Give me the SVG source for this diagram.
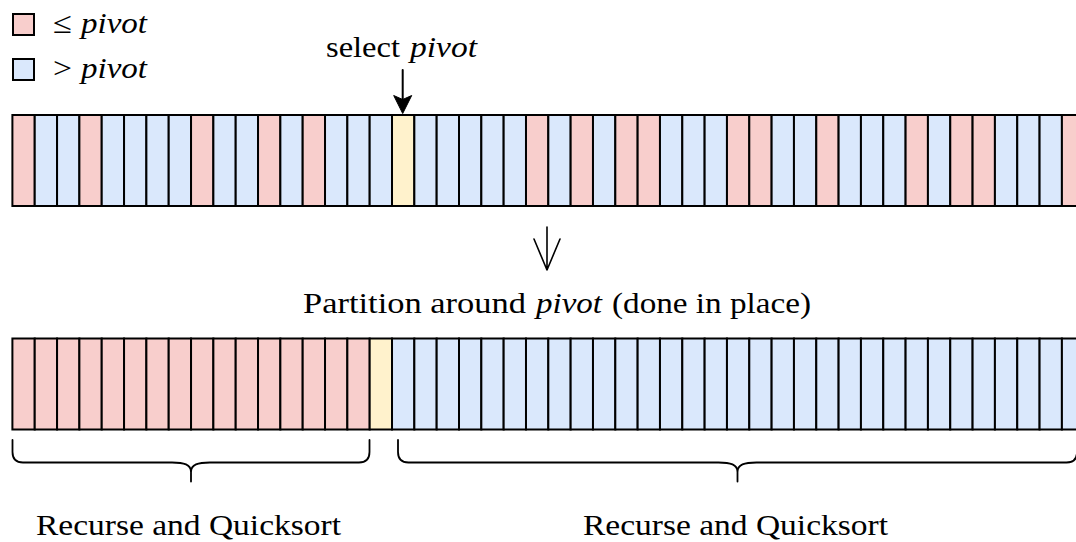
<svg xmlns="http://www.w3.org/2000/svg" width="1076" height="542" viewBox="0 0 1076 542">
<style>
.p{fill:#f8cecc;stroke:#000;stroke-width:2}
.b{fill:#dae8fc;stroke:#000;stroke-width:2}
.y{fill:#fff2cc;stroke:#000;stroke-width:2}
.t{font-family:"Liberation Serif","Times New Roman",serif;font-size:30px;fill:#000}
.i{font-style:italic}
.ln{fill:none;stroke:#000;stroke-width:2;stroke-linecap:round;stroke-linejoin:round}
</style>
<rect width="1076" height="542" fill="#fff"/>
<g id="legend">
  <rect class="p" x="13" y="14" width="21" height="21"/>
  <text class="t" x="53" y="33" textLength="19" lengthAdjust="spacingAndGlyphs">≤</text>
  <text class="t i" x="81" y="33" textLength="66" lengthAdjust="spacingAndGlyphs">pivot</text>
  <rect class="b" x="13" y="59" width="21" height="21"/>
  <text class="t" x="53" y="78" textLength="19" lengthAdjust="spacingAndGlyphs">&gt;</text>
  <text class="t i" x="81" y="78" textLength="66" lengthAdjust="spacingAndGlyphs">pivot</text>
</g>
<g id="label-select">
  <text class="t" x="326" y="57" textLength="74" lengthAdjust="spacingAndGlyphs">select</text>
  <text class="t i" x="410" y="57" textLength="67" lengthAdjust="spacingAndGlyphs">pivot</text>
</g>
<g id="array-top">
  <rect class="p" x="12.4" y="115" width="22.33" height="91"/>
  <rect class="b" x="34.73" y="115" width="22.33" height="91"/>
  <rect class="b" x="57.06" y="115" width="22.33" height="91"/>
  <rect class="p" x="79.39" y="115" width="22.33" height="91"/>
  <rect class="b" x="101.72" y="115" width="22.33" height="91"/>
  <rect class="b" x="124.05" y="115" width="22.33" height="91"/>
  <rect class="b" x="146.38" y="115" width="22.33" height="91"/>
  <rect class="b" x="168.71" y="115" width="22.33" height="91"/>
  <rect class="p" x="191.04" y="115" width="22.33" height="91"/>
  <rect class="b" x="213.37" y="115" width="22.33" height="91"/>
  <rect class="b" x="235.7" y="115" width="22.33" height="91"/>
  <rect class="p" x="258.03" y="115" width="22.33" height="91"/>
  <rect class="b" x="280.36" y="115" width="22.33" height="91"/>
  <rect class="p" x="302.69" y="115" width="22.33" height="91"/>
  <rect class="b" x="325.02" y="115" width="22.33" height="91"/>
  <rect class="b" x="347.35" y="115" width="22.33" height="91"/>
  <rect class="b" x="369.68" y="115" width="22.33" height="91"/>
  <rect class="y" x="392.01" y="115" width="22.33" height="91"/>
  <rect class="b" x="414.34" y="115" width="22.33" height="91"/>
  <rect class="b" x="436.67" y="115" width="22.33" height="91"/>
  <rect class="b" x="459" y="115" width="22.33" height="91"/>
  <rect class="b" x="481.33" y="115" width="22.33" height="91"/>
  <rect class="b" x="503.66" y="115" width="22.33" height="91"/>
  <rect class="p" x="525.99" y="115" width="22.33" height="91"/>
  <rect class="b" x="548.32" y="115" width="22.33" height="91"/>
  <rect class="p" x="570.65" y="115" width="22.33" height="91"/>
  <rect class="b" x="592.98" y="115" width="22.33" height="91"/>
  <rect class="p" x="615.31" y="115" width="22.33" height="91"/>
  <rect class="p" x="637.64" y="115" width="22.33" height="91"/>
  <rect class="b" x="659.97" y="115" width="22.33" height="91"/>
  <rect class="b" x="682.3" y="115" width="22.33" height="91"/>
  <rect class="b" x="704.63" y="115" width="22.33" height="91"/>
  <rect class="p" x="726.96" y="115" width="22.33" height="91"/>
  <rect class="p" x="749.29" y="115" width="22.33" height="91"/>
  <rect class="b" x="771.62" y="115" width="22.33" height="91"/>
  <rect class="b" x="793.95" y="115" width="22.33" height="91"/>
  <rect class="p" x="816.28" y="115" width="22.33" height="91"/>
  <rect class="b" x="838.61" y="115" width="22.33" height="91"/>
  <rect class="b" x="860.94" y="115" width="22.33" height="91"/>
  <rect class="b" x="883.27" y="115" width="22.33" height="91"/>
  <rect class="p" x="905.6" y="115" width="22.33" height="91"/>
  <rect class="b" x="927.93" y="115" width="22.33" height="91"/>
  <rect class="p" x="950.26" y="115" width="22.33" height="91"/>
  <rect class="p" x="972.59" y="115" width="22.33" height="91"/>
  <rect class="b" x="994.92" y="115" width="22.33" height="91"/>
  <rect class="b" x="1017.25" y="115" width="22.33" height="91"/>
  <rect class="b" x="1039.58" y="115" width="22.33" height="91"/>
  <rect class="p" x="1061.91" y="115" width="22.33" height="91"/>
</g>
<g id="label-partition">
  <text class="t" x="303" y="313" textLength="223" lengthAdjust="spacingAndGlyphs">Partition around</text>
  <text class="t i" x="536" y="313" textLength="66" lengthAdjust="spacingAndGlyphs">pivot</text>
  <text class="t" x="612" y="313" textLength="199" lengthAdjust="spacingAndGlyphs">(done in place)</text>
</g>
<g id="array-bottom">
  <rect class="p" x="12.4" y="338.5" width="22.33" height="91"/>
  <rect class="p" x="34.73" y="338.5" width="22.33" height="91"/>
  <rect class="p" x="57.06" y="338.5" width="22.33" height="91"/>
  <rect class="p" x="79.39" y="338.5" width="22.33" height="91"/>
  <rect class="p" x="101.72" y="338.5" width="22.33" height="91"/>
  <rect class="p" x="124.05" y="338.5" width="22.33" height="91"/>
  <rect class="p" x="146.38" y="338.5" width="22.33" height="91"/>
  <rect class="p" x="168.71" y="338.5" width="22.33" height="91"/>
  <rect class="p" x="191.04" y="338.5" width="22.33" height="91"/>
  <rect class="p" x="213.37" y="338.5" width="22.33" height="91"/>
  <rect class="p" x="235.7" y="338.5" width="22.33" height="91"/>
  <rect class="p" x="258.03" y="338.5" width="22.33" height="91"/>
  <rect class="p" x="280.36" y="338.5" width="22.33" height="91"/>
  <rect class="p" x="302.69" y="338.5" width="22.33" height="91"/>
  <rect class="p" x="325.02" y="338.5" width="22.33" height="91"/>
  <rect class="p" x="347.35" y="338.5" width="22.33" height="91"/>
  <rect class="y" x="369.68" y="338.5" width="22.33" height="91"/>
  <rect class="b" x="392.01" y="338.5" width="22.33" height="91"/>
  <rect class="b" x="414.34" y="338.5" width="22.33" height="91"/>
  <rect class="b" x="436.67" y="338.5" width="22.33" height="91"/>
  <rect class="b" x="459" y="338.5" width="22.33" height="91"/>
  <rect class="b" x="481.33" y="338.5" width="22.33" height="91"/>
  <rect class="b" x="503.66" y="338.5" width="22.33" height="91"/>
  <rect class="b" x="525.99" y="338.5" width="22.33" height="91"/>
  <rect class="b" x="548.32" y="338.5" width="22.33" height="91"/>
  <rect class="b" x="570.65" y="338.5" width="22.33" height="91"/>
  <rect class="b" x="592.98" y="338.5" width="22.33" height="91"/>
  <rect class="b" x="615.31" y="338.5" width="22.33" height="91"/>
  <rect class="b" x="637.64" y="338.5" width="22.33" height="91"/>
  <rect class="b" x="659.97" y="338.5" width="22.33" height="91"/>
  <rect class="b" x="682.3" y="338.5" width="22.33" height="91"/>
  <rect class="b" x="704.63" y="338.5" width="22.33" height="91"/>
  <rect class="b" x="726.96" y="338.5" width="22.33" height="91"/>
  <rect class="b" x="749.29" y="338.5" width="22.33" height="91"/>
  <rect class="b" x="771.62" y="338.5" width="22.33" height="91"/>
  <rect class="b" x="793.95" y="338.5" width="22.33" height="91"/>
  <rect class="b" x="816.28" y="338.5" width="22.33" height="91"/>
  <rect class="b" x="838.61" y="338.5" width="22.33" height="91"/>
  <rect class="b" x="860.94" y="338.5" width="22.33" height="91"/>
  <rect class="b" x="883.27" y="338.5" width="22.33" height="91"/>
  <rect class="b" x="905.6" y="338.5" width="22.33" height="91"/>
  <rect class="b" x="927.93" y="338.5" width="22.33" height="91"/>
  <rect class="b" x="950.26" y="338.5" width="22.33" height="91"/>
  <rect class="b" x="972.59" y="338.5" width="22.33" height="91"/>
  <rect class="b" x="994.92" y="338.5" width="22.33" height="91"/>
  <rect class="b" x="1017.25" y="338.5" width="22.33" height="91"/>
  <rect class="b" x="1039.58" y="338.5" width="22.33" height="91"/>
  <rect class="b" x="1061.91" y="338.5" width="22.33" height="91"/>
</g>
<g id="connectors">
  <line class="ln" x1="402.7" y1="70" x2="402.7" y2="100"/>
  <path d="M393.7,95.5 L402.7,113.5 L411.7,95.5 L402.7,99.5 Z" fill="#000" stroke="#000" stroke-width="1" stroke-linejoin="miter"/>
  <path class="ln" d="M547,227 V270 M534,239 L547,270 L560,239" style="stroke-width:1.6"/>
  <path class="ln" d="M12.5,440 V452 Q12.5,462.5 23,462.5 H172 C184,462.5 191,464.5 191,472 V481.5 M191,472 C191,464.5 198,462.5 210,462.5 H359 Q369.5,462.5 369.5,452 V440" style="stroke-width:1.8"/>
  <path class="ln" d="M398,440 V452 Q398,462.5 408.5,462.5 H718.5 C730.5,462.5 737.5,464.5 737.5,472 V481.5 M737.5,472 C737.5,464.5 744.5,462.5 756.5,462.5 H1066.5 Q1077,462.5 1077,452 V440" style="stroke-width:1.8"/>
</g>
<g id="label-recurse-left">
  <text class="t" x="36" y="535" textLength="305" lengthAdjust="spacingAndGlyphs">Recurse and Quicksort</text>
</g>
<g id="label-recurse-right">
  <text class="t" x="583" y="535" textLength="305" lengthAdjust="spacingAndGlyphs">Recurse and Quicksort</text>
</g>
</svg>
